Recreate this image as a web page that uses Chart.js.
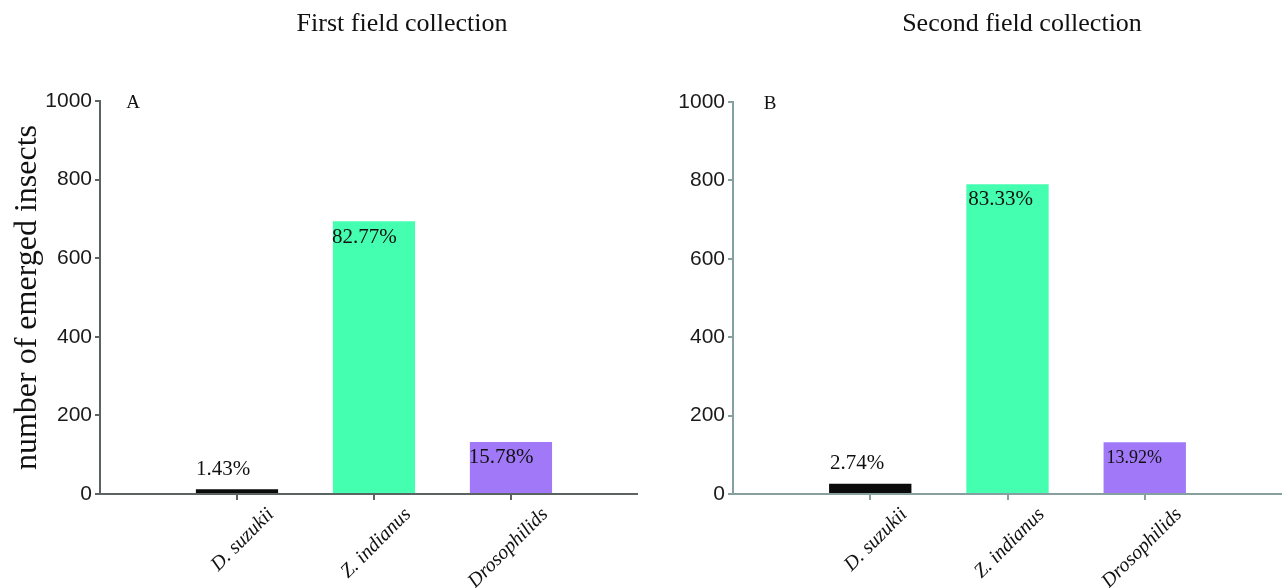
<!DOCTYPE html>
<html>
<head>
<meta charset="utf-8">
<script src="https://cdn.jsdelivr.net/npm/chart.js@4.4.1/dist/chart.umd.min.js"></script>
<style>
  html, body { margin: 0; padding: 0; background: #fff; }
  #wrap { position: relative; width: 1282px; height: 588px; overflow: hidden; }
  .panel { position: absolute; top: 0; height: 588px; }
  #panelA { left: 0; width: 640px; }
  #panelB { left: 640px; width: 642px; }
</style>
</head>
<body>
<div id="wrap">
  <div class="panel" id="panelA"><canvas id="chartA"></canvas></div>
  <div class="panel" id="panelB"><canvas id="chartB"></canvas></div>
</div>
<script>
// data
const categories = ['D. suzukii', 'Z. indianus', 'Drosophilids'];
const firstCounts = [12, 694, 132];
const secondCounts = [26, 790, 132];
const firstPercents = ['1.43%', '82.77%', '15.78%'];
const secondPercents = ['2.74%', '83.33%', '13.92%'];
const yTicks = [0, 200, 400, 600, 800, 1000];
const barColors = ['#0b0b0b', '#45ffb0', '#a078f8'];

const serif = '"Liberation Serif", "Times New Roman", serif';
const sans = '"Liberation Sans", Arial, sans-serif';

// percent labels, panel letter and the title drawn on top of the bars
const annotate = {
  id: 'annotate',
  afterDatasetsDraw(chart, args, o) {
    const ctx = chart.ctx;
    const area = chart.chartArea;
    ctx.save();
    ctx.fillStyle = '#111';
    ctx.textBaseline = 'alphabetic';
    ctx.textAlign = 'left';
    chart.getDatasetMeta(0).data.forEach((bar, i) => {
      ctx.font = o.sizes[i] + 'px ' + serif;
      ctx.fillText(o.labels[i], bar.x - bar.width / 2 + o.dx[i], bar.y + o.dy[i]);
    });
    ctx.font = '19px ' + serif;
    ctx.textBaseline = 'middle';
    ctx.textAlign = 'center';
    ctx.fillText(o.letter, area.left + o.letterDx, area.top + 2);
    ctx.font = '26px ' + serif;
    ctx.fillText(o.title, o.titleX, 24);
    ctx.restore();
  }
};

function makeChart(id, counts, pct, opts) {
  const axisColor = opts.axisColor;
  return new Chart(document.getElementById(id), {
    type: 'bar',
    data: {
      datasets: [{
        data: counts.map((v, i) => ({ x: i + 1, y: v })),
        backgroundColor: barColors,
        borderWidth: 0,
        barPercentage: 0.75,
        categoryPercentage: 0.8
      }]
    },
    options: {
      responsive: true,
      maintainAspectRatio: false,
      animation: false,
      layout: { padding: { left: opts.padLeft, right: opts.padRight, top: opts.padTop, bottom: 0 } },
      plugins: {
        legend: { display: false },
        tooltip: { enabled: false },
        annotate: {
          labels: pct, sizes: opts.sizes, dx: opts.dx, dy: opts.dy,
          letter: opts.letter, letterDx: opts.letterDx,
          title: opts.title, titleX: opts.titleX
        }
      },
      scales: {
        x: {
          type: 'linear',
          min: 0,
          max: opts.xMax,
          offset: false,
          afterBuildTicks: s => { s.ticks = categories.map((c, i) => ({ value: i + 1 })); },
          afterFit: s => { s.height = 94; },
          border: { color: axisColor, width: 2 },
          grid: { offset: false, drawOnChartArea: false, color: axisColor, tickLength: 6, lineWidth: 2 },
          ticks: {
            autoSkip: false,
            minRotation: 45,
            maxRotation: 45,
            labelOffset: 34,
            padding: 3,
            color: '#111',
            font: { family: serif, size: 20, style: 'italic' },
            callback: v => categories[v - 1] || ''
          }
        },
        y: {
          min: 0,
          max: 1000,
          afterBuildTicks: s => { s.ticks = yTicks.map(v => ({ value: v })); },
          afterFit: s => { s.width = opts.yWidth; },
          border: { color: axisColor, width: 2 },
          grid: { drawOnChartArea: false, color: axisColor, tickLength: 5, lineWidth: 2 },
          ticks: { padding: 3, color: '#1a1a1a', font: { family: sans, size: 21 }, callback: v => String(v) },
          title: {
            display: opts.yTitle !== '',
            text: opts.yTitle,
            color: '#111',
            font: { family: serif, size: 32 },
            padding: { top: 0, bottom: 0 }
          }
        }
      }
    },
    plugins: [annotate]
  });
}

makeChart('chartA', firstCounts, firstPercents, {
  axisColor: '#5b6363', padLeft: 8, padRight: 3, padTop: 101, yWidth: 92, xMax: 3.92,
  yTitle: 'number of emerged insects',
  sizes: [21, 21, 21], dx: [0, -1, -1], dy: [-14, 22, 21],
  letter: 'A', letterDx: 33, title: 'First field collection', titleX: 402
});

makeChart('chartB', secondCounts, secondPercents, {
  axisColor: '#86a0a0', padLeft: 0, padRight: 0, padTop: 102, yWidth: 93, xMax: 4,
  yTitle: '',
  sizes: [21, 21, 18], dx: [1, 2, 3], dy: [-15, 21, 21],
  letter: 'B', letterDx: 37, title: 'Second field collection', titleX: 382
});
</script>
</body>
</html>
